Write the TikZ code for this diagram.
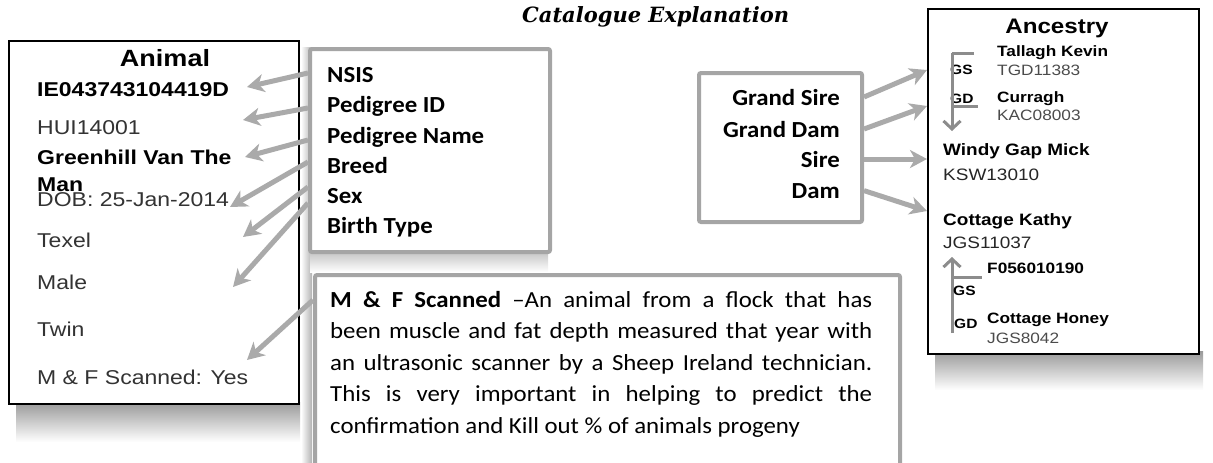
\documentclass[tikz,border=0pt]{standalone}
\usepackage{fontspec}
\setmainfont[FakeStretch=1.15]{Liberation Sans}
\newfontfamily\calfont[FakeStretch=1.08]{Carlito}
\newfontfamily\headfont{DejaVu Serif}
\usetikzlibrary{arrows.meta}
\newcommand\fsz[1]{\fontsize{#1}{#1}\selectfont}
\definecolor{boxgray}{RGB}{165,165,165}
\definecolor{arrgray}{RGB}{170,170,170}
\definecolor{brkgray}{RGB}{140,140,140}
\definecolor{idgray}{RGB}{75,75,75}

\begin{document}
\begin{tikzpicture}[x=1pt,y=-1pt,
    every node/.style={inner sep=0pt},
    blackbox/.style={draw=black,line width=2.2pt,fill=white,anchor=north west},
    graybox/.style={draw=boxgray,line width=4pt,rounded corners=2pt,fill=white,anchor=north west},
    pointer/.style={draw=arrgray,line width=5pt,-{Stealth[length=17pt,width=18pt,inset=5pt]}},
    bracket/.style={draw=brkgray,line width=3pt},
    animtxt/.style={anchor=base west,font=\fsz{20},text=black!80},
    animbold/.style={anchor=base west,font=\fsz{20}\bfseries},
    keytxt/.style={anchor=base west,font=\calfont\fsz{23}\bfseries},
    keyright/.style={anchor=base east,font=\calfont\fsz{23}\bfseries},
    ancname/.style={anchor=base west,font=\fsz{15}\bfseries},
    ancid/.style={anchor=base west,font=\fsz{15},text=idgray},
    parname/.style={anchor=base west,font=\fsz{16.5}\bfseries},
    parid/.style={anchor=base west,font=\fsz{16.5},text=black!85},
    tag/.style={anchor=base west,font=\fsz{13.5}\bfseries}]
    \useasboundingbox (0,0) rectangle (1213,463);
    \clip (0,0) rectangle (1213,463);
    \node[anchor=base west,font=\headfont\fsz{21}\bfseries\itshape] (title) at (522,22) {Catalogue Explanation};
    % shadows
    \shade[top color=black!40,bottom color=white] (16,402) rectangle (300,442);
    \shade[top color=black!40,bottom color=white] (935,351) rectangle (1203,390);
    \shade[left color=white,right color=black!30] (301,47) rectangle (312,463);
    \shade[top color=black!25,bottom color=white] (310,250) rectangle (548,272);
    % boxes
    \node[blackbox,minimum width=290pt,minimum height=363pt] (animal) at (8,40) {};
    \node[graybox,minimum width=240pt,minimum height=203pt] (keybox) at (308,47) {};
    \node[graybox,minimum width=585pt,minimum height=230pt] (scanbox) at (313,273) {};
    \node[graybox,minimum width=163pt,minimum height=149pt] (pedbox) at (697,71) {};
    \node[blackbox,minimum width=271pt,minimum height=345pt] (ancbox) at (927,8) {};
    % animal
    \node[anchor=base,font=\fsz{23.5}\bfseries] (animhead) at (165,66) {Animal};
    \node[animbold] (nsisval) at (37,96) {IE043743104419D};
    \node[animtxt] (pidval) at (37,134) {HUI14001};
    \node[animbold] (pnameval) at (37,164) {Greenhill Van The};
    \node[animbold] (pnamerest) at (37,191) {Man};
    \node[animtxt] (dobval) at (37,206) {DOB: 25-Jan-2014};
    \node[animtxt] (breedval) at (37,247) {Texel};
    \node[animtxt] (sexval) at (37,289) {Male};
    \node[animtxt] (birthval) at (37,336) {Twin};
    \node[animtxt] (scanval) at (37,384) {M \& F Scanned: Yes};
    % key
    \node[keytxt] (knsis) at (327,82) {NSIS};
    \node[keytxt] (kpid) at (327,112) {Pedigree ID};
    \node[keytxt] (kpname) at (327,143) {Pedigree Name};
    \node[keytxt] (kbreed) at (327,173) {Breed};
    \node[keytxt] (ksex) at (327,203) {Sex};
    \node[keytxt] (kbirth) at (327,233) {Birth Type};
    \node[anchor=base west,text width=542pt,align=justify,font=\calfont\fontsize{23}{31.5}\selectfont] (scantxt) at (330,307)
        {\textbf{M \& F Scanned} –An animal from a flock that has\linebreak
         been muscle and fat depth measured that year with\linebreak
         an ultrasonic scanner by a Sheep Ireland technician.\linebreak
         This is very important in helping to predict the\linebreak
         confirmation and Kill out \% of animals progeny};
    \coordinate (pnsis) at (247,87);
    \coordinate (ppid) at (243,120);
    \coordinate (ppname) at (245,157);
    \coordinate (pbreed) at (230,207);
    \coordinate (psex) at (243,237);
    \coordinate (pbirth) at (233,287);
    \coordinate (pscan) at (247,360);
    \draw[pointer] (keybox.west |- 0,73) -- (pnsis);
    \draw[pointer] (keybox.west |- 0,108) -- (ppid);
    \draw[pointer] (keybox.west |- 0,140) -- (ppname);
    \draw[pointer] (keybox.west |- 0,162) -- (pbreed);
    \draw[pointer] (keybox.west |- 0,187) -- (psex);
    \draw[pointer] (keybox.west |- 0,203) -- (pbirth);
    \draw[pointer] (scanbox.west |- 0,300) -- (pscan);
    % pedigree
    \node[keyright] (kgsire) at (840,105) {Grand Sire};
    \node[keyright] (kgdam) at (840,137) {Grand Dam};
    \node[keyright] (ksire) at (840,167) {Sire};
    \node[keyright] (kdam) at (840,198) {Dam};
    \draw[pointer] (pedbox.east |- kgsire) -- (ancbox.west |- 0,70);
    \draw[pointer] (pedbox.east |- kgdam) -- (ancbox.west |- 0,106);
    \draw[pointer] (pedbox.east |- ksire) -- (ancbox.west |- ksire);
    \draw[pointer] (pedbox.east |- kdam) -- (ancbox.west |- 0,211);
    % ancestry
    \node[anchor=base,font=\fsz{21}\bfseries] (anchead) at (1057,33) {Ancestry};
    \node[ancname] (gsname) at (997,56) {Tallagh Kevin};
    \node[ancid] (gsid) at (997,75) {TGD11383};
    \node[ancname] (gdname) at (997,102) {Curragh};
    \node[ancid] (gdid) at (997,120) {KAC08003};
    \node[tag] (gstag) at (950,74) {GS};
    \node[tag] (gdtag) at (950,103) {GD};
    \draw[bracket] (974,53) -- (952,53);
    \draw[bracket,-{Straight Barb[length=8pt,width=17pt]}] (952,53) -- (952,131);
    \draw[bracket] (952,106) -- (978,106);
    \node[parname] (sirename) at (943,155) {Windy Gap Mick};
    \node[parid] (sireid) at (943,180) {KSW13010};
    \node[parname] (damname) at (943,225) {Cottage Kathy};
    \node[parid] (damid) at (943,248) {JGS11037};
    \draw[bracket,-{Straight Barb[length=8pt,width=17pt]}] (952,333) -- (952,257);
    \draw[bracket] (952,277) -- (982,277);
    \node[ancname] (mgsname) at (987,273) {F056010190};
    \node[tag] (mgstag) at (953,295) {GS};
    \node[tag] (mgdtag) at (954,328) {GD};
    \node[ancname] (mgdname) at (987,323) {Cottage Honey};
    \node[ancid] (mgdid) at (987,343) {JGS8042};
\end{tikzpicture}
\end{document}
